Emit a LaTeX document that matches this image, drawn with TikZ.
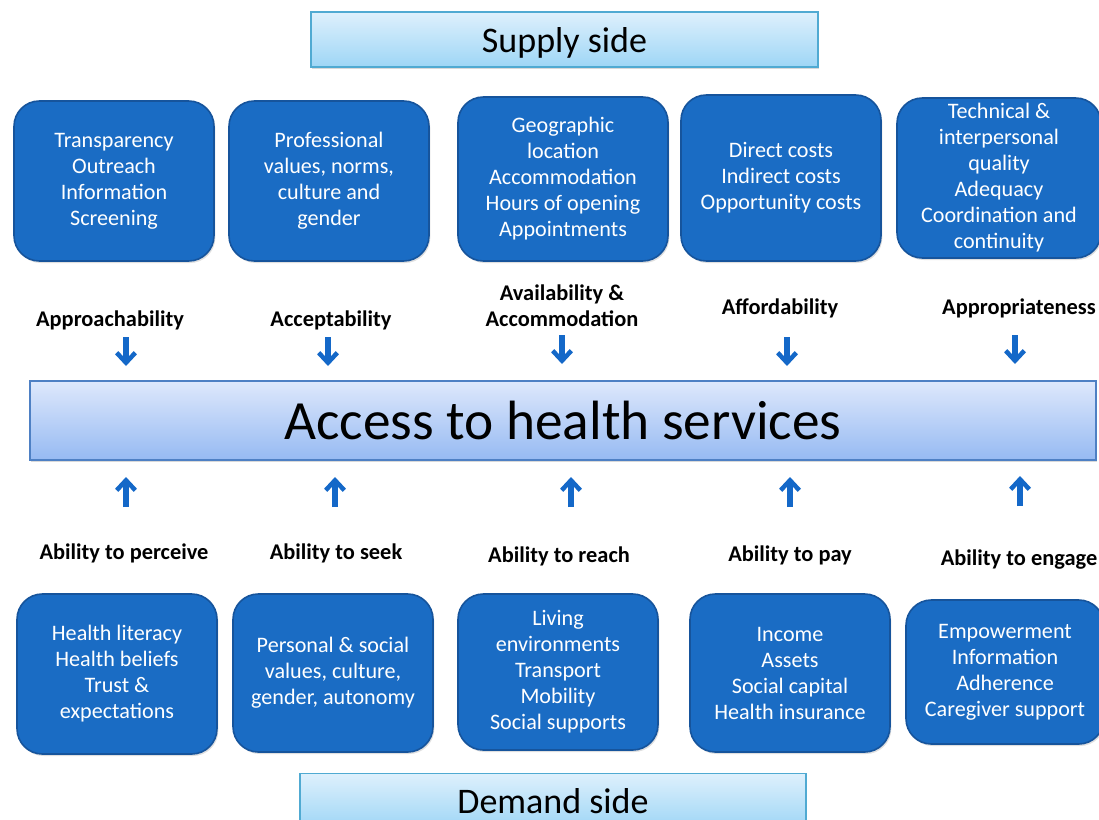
\documentclass[tikz,border=0pt]{standalone}
\usepackage{fontspec}
\setmainfont{Carlito}
\usetikzlibrary{arrows.meta,shadows}
\definecolor{boxc}{RGB}{26,108,196}
\definecolor{bordc}{RGB}{22,84,156}
\definecolor{arrc}{RGB}{20,104,200}
\definecolor{sidetop}{RGB}{222,240,252}
\definecolor{sidebot}{RGB}{158,214,246}
\definecolor{sidebord}{RGB}{80,170,210}
\definecolor{maintop}{RGB}{222,232,252}
\definecolor{mainbot}{RGB}{150,186,242}
\definecolor{mainbord}{RGB}{78,128,196}
\tikzset{
  bluebox/.style={draw=bordc, fill=boxc, rounded corners=19pt, line width=1.2pt,
    text=white, font=\fontsize{16.6}{19.5}\selectfont, align=center, inner sep=0pt,
    drop shadow={opacity=0.25, shadow xshift=1pt, shadow yshift=-1.5pt}},
  sidebox/.style={draw=sidebord, line width=0.9pt, top color=sidetop, bottom color=sidebot,
    font=\fontsize{27}{31}\selectfont, inner sep=0pt, minimum height=41.25pt,
    drop shadow={opacity=0.3, shadow xshift=1pt, shadow yshift=-1.5pt}},
  sidetext/.style={font=\fontsize{27}{31}\selectfont, inner sep=0pt, anchor=base},
  mainbox/.style={draw=mainbord, line width=0.9pt, top color=maintop, bottom color=mainbot,
    font=\fontsize{41.5}{48}\selectfont, inner sep=0pt, minimum width=799.5pt, minimum height=59.25pt,
    drop shadow={opacity=0.3, shadow xshift=1pt, shadow yshift=-1.5pt}},
  dimlabel/.style={font=\bfseries\fontsize{16.8}{19.5}\selectfont, align=center, inner sep=0pt},
  bluearrow/.style={draw=arrc, line width=3.8pt, -{Straight Barb[length=7.5pt,width=14pt,line width=3.4pt]}}
}
\begin{document}
\begin{tikzpicture}[x=0.75pt,y=-0.75pt]
\useasboundingbox (0,0) rectangle (1099,820);
% side headers
\node[sidebox, minimum width=380.25pt] (supply) at (564.5,39.5) {};
\node[sidetext] (supplytxt) at (564.5,53) {Supply side};
\node[sidebox, minimum width=379.5pt] (demand) at (553,801) {};
\node[sidetext] (demandtxt) at (553,813) {Demand side};
% supply boxes
\node[bluebox, minimum width=150pt, minimum height=120pt] (t1) at (114,181) {Transparency\\Outreach\\Information\\Screening};
\node[bluebox, minimum width=150pt, minimum height=120pt] (t2) at (329,181) {Professional\\values, norms,\\culture and\\gender};
\node[bluebox, minimum width=157.5pt, minimum height=123pt] (t3) at (563,179) {Geographic\\location\\Accommodation\\Hours of opening\\Appointments};
\node[bluebox, minimum width=150pt, minimum height=124.5pt] (t4) at (781,178) {Direct costs\\Indirect costs\\Opportunity costs};
\node[bluebox, minimum width=153pt, minimum height=120pt] (t5) at (999,178) {Technical \&\\interpersonal\\quality\\Adequacy\\Coordination and\\continuity};
% supply labels
\node[dimlabel] (l1) at (110,320) {Approachability};
\node[dimlabel] (l2) at (331,320) {Acceptability};
\node[dimlabel] (l3) at (562,306) {Availability \&\\Accommodation};
\node[dimlabel] (l4) at (780,308) {Affordability};
\node[dimlabel] (l5) at (1019,308) {Appropriateness};
% main
\node[mainbox] (access) at (563,420.5) {Access to health services};
% down arrows
\coordinate (d1a) at (126,337); \coordinate (d1b) at (126,366);
\coordinate (d2a) at (328,337); \coordinate (d2b) at (328,366);
\coordinate (d3a) at (562,335); \coordinate (d3b) at (562,364);
\coordinate (d4a) at (787,337); \coordinate (d4b) at (787,366);
\coordinate (d5a) at (1015,335); \coordinate (d5b) at (1015,364);
\foreach \i in {1,...,5} {\draw[bluearrow] (d\i a) -- (d\i b);}
% up arrows
\coordinate (u1a) at (126,507); \coordinate (u1b) at (126,477);
\coordinate (u2a) at (335,507); \coordinate (u2b) at (335,477);
\coordinate (u3a) at (571,507); \coordinate (u3b) at (571,477);
\coordinate (u4a) at (790,507); \coordinate (u4b) at (790,477);
\coordinate (u5a) at (1020,506); \coordinate (u5b) at (1020,476);
\foreach \i in {1,...,5} {\draw[bluearrow] (u\i a) -- (u\i b);}
% demand labels
\node[dimlabel] (m1) at (124,553) {Ability to perceive};
\node[dimlabel] (m2) at (336,553) {Ability to seek};
\node[dimlabel] (m3) at (559,556) {Ability to reach};
\node[dimlabel] (m4) at (790,555) {Ability to pay};
\node[dimlabel] (m5) at (1019,560) {Ability to engage};
% demand boxes
\node[bluebox, minimum width=150pt, minimum height=120pt] (b1) at (117,674) {Health literacy\\Health beliefs\\Trust \&\\expectations};
\node[bluebox, minimum width=150pt, minimum height=118.5pt] (b2) at (333,673) {Personal \& social\\values, culture,\\gender, autonomy};
\node[bluebox, minimum width=150pt, minimum height=117pt] (b3) at (558,672) {Living\\environments\\Transport\\Mobility\\Social supports};
\node[bluebox, minimum width=150pt, minimum height=118.5pt] (b4) at (790,673) {Income\\Assets\\Social capital\\Health insurance};
\node[bluebox, minimum width=148.5pt, minimum height=108pt] (b5) at (1005,672) {Empowerment\\Information\\Adherence\\Caregiver support};
\end{tikzpicture}
\end{document}
